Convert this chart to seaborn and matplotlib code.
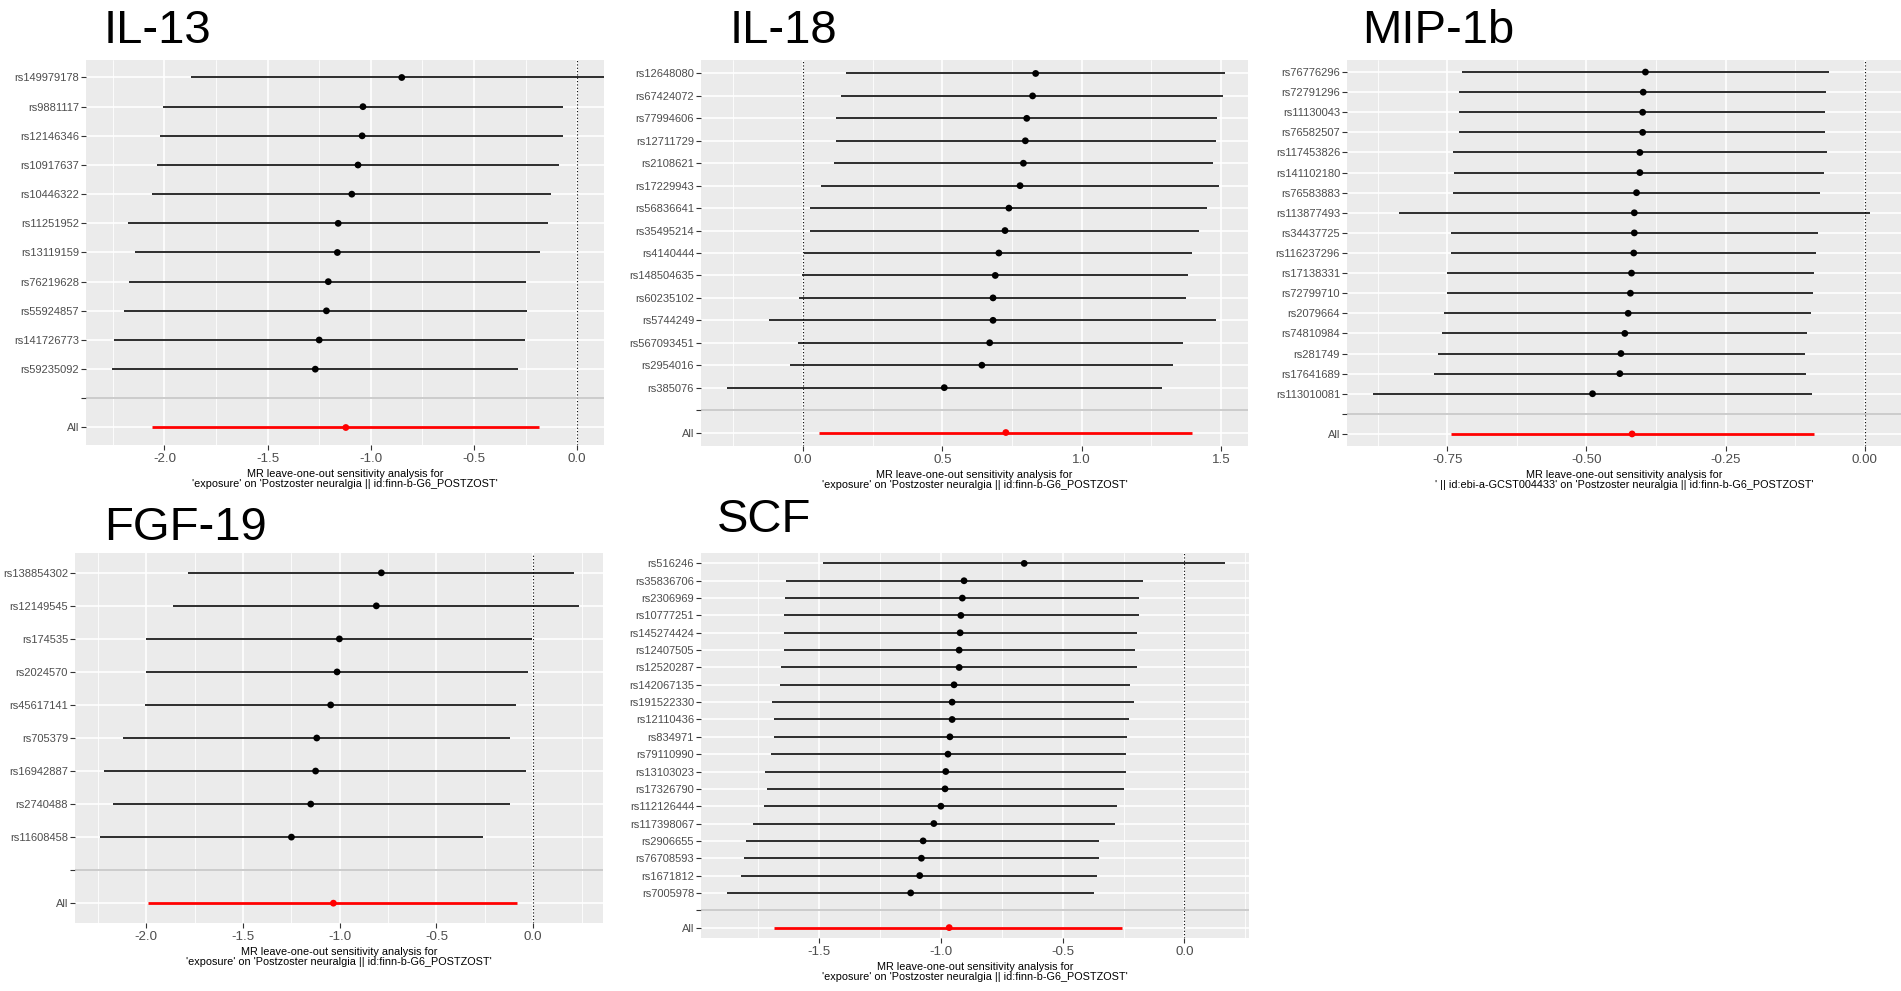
#MR leave-one-out forest plots (5 panels) recreated with seaborn

#Imports
import numpy as np
import pandas as pd
import matplotlib
matplotlib.use("Agg")
import matplotlib.pyplot as plt
import seaborn as sns

#Data: leave-one-out estimates (b) and 95% CI (lo, up)

#IL-13
il13_snp = ["rs149979178", "rs9881117", "rs12146346", "rs10917637", "rs10446322",
            "rs11251952", "rs13119159", "rs76219628", "rs55924857", "rs141726773",
            "rs59235092"]
il13_b = [-0.850, -1.038, -1.042, -1.062, -1.092, -1.158, -1.162, -1.206, -1.215, -1.250, -1.269]
il13_lo = [-1.869, -2.008, -2.023, -2.037, -2.058, -2.175, -2.142, -2.171, -2.194, -2.244, -2.254]
il13_up = [0.25, -0.067, -0.067, -0.090, -0.127, -0.140, -0.181, -0.250, -0.244, -0.254, -0.288]
il13_all = [-1.121, -2.062, -0.185]

#IL-18
il18_snp = ["rs12648080", "rs67424072", "rs77994606", "rs12711729", "rs2108621",
            "rs17229943", "rs56836641", "rs35495214", "rs4140444", "rs148504635",
            "rs60235102", "rs5744249", "rs567093451", "rs2954016", "rs385076"]
il18_b = [0.835, 0.824, 0.803, 0.798, 0.791, 0.779, 0.739, 0.725, 0.703, 0.690,
          0.682, 0.682, 0.670, 0.642, 0.507]
il18_lo = [0.156, 0.138, 0.117, 0.117, 0.111, 0.065, 0.024, 0.024, 0.003, -0.004,
           -0.015, -0.122, -0.019, -0.045, -0.272]
il18_up = [1.515, 1.507, 1.485, 1.482, 1.470, 1.493, 1.451, 1.421, 1.397, 1.380,
           1.375, 1.482, 1.362, 1.327, 1.287]
il18_all = [0.728, 0.058, 1.397]

#MIP-1b
mip_snp = ["rs76776296", "rs72791296", "rs11130043", "rs76582507", "rs117453826",
           "rs141102180", "rs76583883", "rs113877493", "rs34437725", "rs116237296",
           "rs17138331", "rs72799710", "rs2079664", "rs74810984", "rs281749",
           "rs17641689", "rs113010081"]
mip_b = [-0.394, -0.398, -0.399, -0.399, -0.404, -0.404, -0.410, -0.414, -0.414, -0.415,
         -0.419, -0.421, -0.425, -0.431, -0.438, -0.440, -0.489]
mip_lo = [-0.723, -0.728, -0.728, -0.728, -0.740, -0.737, -0.739, -0.837, -0.744, -0.744,
          -0.750, -0.750, -0.755, -0.760, -0.766, -0.773, -0.884]
mip_up = [-0.065, -0.069, -0.072, -0.072, -0.068, -0.073, -0.081, 0.010, -0.084, -0.087,
          -0.092, -0.093, -0.097, -0.103, -0.108, -0.105, -0.095]
mip_all = [-0.418, -0.744, -0.092]

#FGF-19
fgf_snp = ["rs138854302", "rs12149545", "rs174535", "rs2024570", "rs45617141",
           "rs705379", "rs16942887", "rs2740488", "rs11608458"]
fgf_b = [-0.785, -0.811, -1.002, -1.014, -1.047, -1.119, -1.125, -1.150, -1.250]
fgf_lo = [-1.787, -1.863, -2.000, -2.004, -2.008, -2.123, -2.221, -2.174, -2.242]
fgf_up = [0.213, 0.238, -0.004, -0.029, -0.090, -0.121, -0.035, -0.121, -0.262]
fgf_all = [-1.033, -1.990, -0.084]

#SCF
scf_snp = ["rs516246", "rs35836706", "rs2306969", "rs10777251", "rs145274424",
           "rs12407505", "rs12520287", "rs142067135", "rs191522330", "rs12110436",
           "rs834971", "rs79110990", "rs13103023", "rs17326790", "rs112126444",
           "rs117398067", "rs2906655", "rs76708593", "rs1671812", "rs7005978"]
scf_b = [-0.658, -0.905, -0.912, -0.918, -0.921, -0.925, -0.925, -0.946, -0.954, -0.954,
         -0.963, -0.971, -0.980, -0.983, -1.000, -1.029, -1.073, -1.080, -1.087, -1.124]
scf_lo = [-1.483, -1.636, -1.641, -1.646, -1.646, -1.646, -1.655, -1.662, -1.694, -1.684,
          -1.687, -1.696, -1.721, -1.713, -1.726, -1.770, -1.799, -1.810, -1.820, -1.879]
scf_up = [0.167, -0.170, -0.187, -0.187, -0.196, -0.204, -0.196, -0.224, -0.207, -0.228,
          -0.236, -0.241, -0.241, -0.250, -0.276, -0.284, -0.352, -0.352, -0.361, -0.372]
scf_all = [-0.966, -1.684, -0.255]

xlab_std = ("MR leave-one-out sensitivity analysis for\n"
            "'exposure' on 'Postzoster neuralgia || id:finn-b-G6_POSTZOST'")
xlab_mip = ("MR leave-one-out sensitivity analysis for\n"
            "' || id:ebi-a-GCST004433' on 'Postzoster neuralgia || id:finn-b-G6_POSTZOST'")

#Tema parecido com ggplot2 theme_grey
sns.set_theme(style="darkgrid", rc={
    "axes.facecolor": "#EBEBEB",
    "grid.color": "white",
    "axes.edgecolor": "#EBEBEB",
})
plt.rcParams["font.family"] = ["Liberation Sans", "DejaVu Sans"]

W, H = 1901, 991
fig = plt.figure(figsize=(W / 100, H / 100), dpi=100)
fig.patch.set_facecolor("white")


def add_ax(x0, y0, x1, y1):
    #pixel box (top-left origin) -> figure fraction
    return fig.add_axes([x0 / W, 1 - y1 / H, (x1 - x0) / W, (y1 - y0) / H])


def draw_panel(ax, snp, b, lo, up, all_vals, xlim, xticks, fmt, xlab):
    n = len(snp)
    df = pd.DataFrame({"SNP": snp, "b": b, "lo": lo, "up": up})
    df["pos"] = np.arange(n)
    df["grp"] = "snp"
    tot = pd.DataFrame({"SNP": ["All"], "b": [all_vals[0]], "lo": [all_vals[1]],
                        "up": [all_vals[2]], "pos": [n + 1], "grp": ["all"]})
    df = pd.concat([df, tot], ignore_index=True)

    ax.set_xlim(*xlim)
    ax.set_ylim(n + 1 + 0.6, -0.6)

    #dotted zero line and grey separator
    ax.axvline(0, color="black", linestyle=(0, (1, 2)), linewidth=0.8, zorder=2)
    ax.axhline(n, color="#BEBEBE", linewidth=1.1, zorder=2)

    snps = df[df.grp == "snp"]
    ax.hlines(snps.pos, snps.lo, snps.up, colors="black", linewidth=1.15, zorder=3)
    ax.hlines(tot.pos, tot.lo, tot.up, colors="red", linewidth=2.0, zorder=3)
    sns.scatterplot(data=df, x="b", y="pos", hue="grp",
                    palette={"snp": "black", "all": "red"},
                    s=24, edgecolor="none", legend=False, ax=ax, zorder=4)

    ax.set_yticks(list(range(n)) + [n, n + 1])
    ax.set_yticklabels(list(snp) + ["", "All"])
    ax.set_xticks(xticks)
    ax.set_xticklabels([fmt.format(v) for v in xticks])
    step = xticks[1] - xticks[0]
    minor = np.arange(xticks[0] - step / 2, xlim[1], step)
    ax.set_xticks(minor, minor=True)
    ax.grid(True, which="major", color="white", linewidth=1.2)
    ax.grid(True, which="minor", axis="x", color="white", linewidth=0.6)
    ax.grid(False, which="minor", axis="y")

    ax.tick_params(axis="y", which="major", left=True, length=3.5, width=0.8,
                   color="#333333", labelsize=8, labelcolor="#4D4D4D", pad=1.5)
    ax.tick_params(axis="x", which="major", bottom=True, length=3.5, width=0.8,
                   color="#333333", labelsize=9.6, labelcolor="#4D4D4D", pad=2)
    ax.tick_params(axis="x", which="minor", bottom=False)
    for sp in ax.spines.values():
        sp.set_visible(False)

    ax.set_xlabel(xlab, fontsize=7.8, color="black", linespacing=1.05, labelpad=3)
    ax.set_ylabel("")


#Paineis
ax1 = add_ax(86, 60, 604, 445)
draw_panel(ax1, il13_snp, il13_b, il13_lo, il13_up, il13_all,
           (-2.38, 0.13), [-2.0, -1.5, -1.0, -0.5, 0.0], "{:.1f}", xlab_std)

ax2 = add_ax(701, 60, 1248, 446)
draw_panel(ax2, il18_snp, il18_b, il18_lo, il18_up, il18_all,
           (-0.366, 1.597), [0.0, 0.5, 1.0, 1.5], "{:.1f}", xlab_std)

ax3 = add_ax(1347, 60, 1901, 446)
draw_panel(ax3, mip_snp, mip_b, mip_lo, mip_up, mip_all,
           (-0.93, 0.065), [-0.75, -0.50, -0.25, 0.00], "{:.2f}", xlab_mip)

ax4 = add_ax(75, 553, 603, 923)
draw_panel(ax4, fgf_snp, fgf_b, fgf_lo, fgf_up, fgf_all,
           (-2.369, 0.361), [-2.0, -1.5, -1.0, -0.5, 0.0], "{:.1f}", xlab_std)

ax5 = add_ax(701, 553, 1249, 938)
draw_panel(ax5, scf_snp, scf_b, scf_lo, scf_up, scf_all,
           (-1.985, 0.265), [-1.5, -1.0, -0.5, 0.0], "{:.1f}", xlab_std)

#Titulos grandes
titles = [("IL-13", 104, 43), ("IL-18", 730, 43), ("MIP-1b", 1362, 43),
          ("FGF-19", 104, 540), ("SCF", 717, 532)]
for txt, px, py in titles:
    fig.text(px / W, 1 - py / H, txt, fontsize=34, color="black",
             ha="left", va="baseline")

fig.savefig("out.png", dpi=100, facecolor="white")
